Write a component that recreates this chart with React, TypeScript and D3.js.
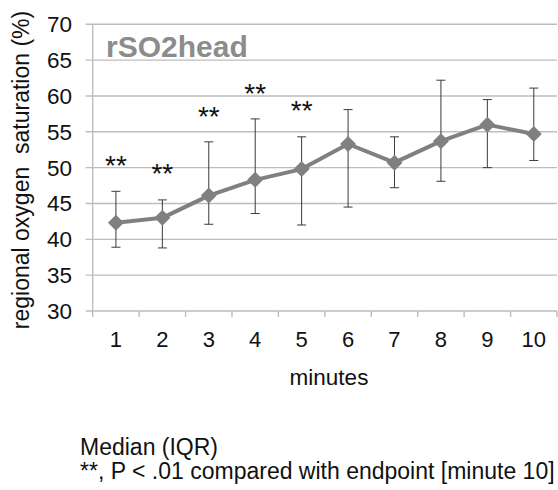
import React from "react";
import * as d3 from "d3";

const minutes = [1, 2, 3, 4, 5, 6, 7, 8, 9, 10];
const medians = [42.3, 43.0, 46.1, 48.3, 49.8, 53.3, 50.7, 53.7, 56.0, 54.7];
const q1 = [38.9, 38.8, 42.1, 43.6, 42.0, 44.5, 47.2, 48.1, 50.0, 51.0];
const q3 = [46.7, 45.5, 53.6, 56.8, 54.3, 58.1, 54.3, 62.2, 59.5, 61.1];
const sigMinutes = [1, 2, 3, 4, 5];
const sigLabelY = [49.0, 47.9, 55.8, 59.0, 56.6];
const yTicks = [30, 35, 40, 45, 50, 55, 60, 65, 70];

const W = 558, H = 490;
const left = 92.7, right = 557, top = 24.3, bottom = 311;

export default function App() {
  const x = d3.scaleBand<number>().domain(minutes).range([left, right]).padding(0);
  const y = d3.scaleLinear().domain([30, 70]).range([bottom, top]);
  const cx = (m: number) => (x(m) as number) + x.bandwidth() / 2;
  const line = d3.line<number>().x((_, i) => cx(minutes[i])).y((d) => y(d));
  const font = "Liberation Sans, Arial, sans-serif";
  const xTickPos = [...minutes.map((m) => x(m) as number), right];
  return (
    <svg width={W} height={H} style={{ position: "absolute", left: 0, top: 0 }} fontFamily={font}>
      <rect width={W} height={H} fill="#fff" />
      {yTicks.map((t) => (
        <g key={t}>
          <line x1={left - 7} x2={right} y1={y(t)} y2={y(t)} stroke="#bdbdbd" strokeWidth={1.4} />
          <text x={72} y={y(t)} dy="0.35em" textAnchor="end" fontSize={22.5} fill="#111">{t}</text>
        </g>
      ))}
      <line x1={left} x2={left} y1={top} y2={bottom} stroke="#bdbdbd" strokeWidth={1.4} />
      {xTickPos.map((p, i) => (
        <line key={i} x1={p} x2={p} y1={bottom} y2={bottom + 6} stroke="#bdbdbd" strokeWidth={1.4} />
      ))}
      {minutes.map((m) => (
        <text key={m} x={cx(m)} y={347} textAnchor="middle" fontSize={22} fill="#111">{m}</text>
      ))}
      <text x={329} y={385} textAnchor="middle" fontSize={22.5} fill="#111">minutes</text>
      <text transform={`translate(29,170) rotate(-90)`} textAnchor="middle" fontSize={23} fill="#111" style={{ whiteSpace: "pre" }}>
        {"regional oxygen  saturation (%)"}
      </text>
      <text x={106} y={57} fontSize={30} fontWeight="bold" fill="#8c8c8c">rSO2head</text>
      {minutes.map((m, i) => (
        <g key={m} stroke="#3a3a3a" strokeWidth={1}>
          <line x1={cx(m)} x2={cx(m)} y1={y(q1[i])} y2={y(q3[i])} />
          <line x1={cx(m) - 4.5} x2={cx(m) + 4.5} y1={y(q1[i])} y2={y(q1[i])} />
          <line x1={cx(m) - 4.5} x2={cx(m) + 4.5} y1={y(q3[i])} y2={y(q3[i])} />
        </g>
      ))}
      <path d={line(medians) || ""} fill="none" stroke="#808080" strokeWidth={4} strokeLinejoin="round" />
      {minutes.map((m, i) => (
        <path key={m} transform={`translate(${cx(m)},${y(medians[i])})`} d="M0,-8L8,0L0,8L-8,0Z" fill="#808080" />
      ))}
      {sigMinutes.map((m, i) => (
        <text key={m} x={cx(m)} y={y(sigLabelY[i])} textAnchor="middle" fontSize={28} fill="#111">**</text>
      ))}
      <text x={80} y={455} fontSize={23} fill="#111">Median (IQR)</text>
      <text x={80} y={479} fontSize={23} fill="#111">**, P &lt; .01 compared with endpoint [minute 10]</text>
    </svg>
  );
}
